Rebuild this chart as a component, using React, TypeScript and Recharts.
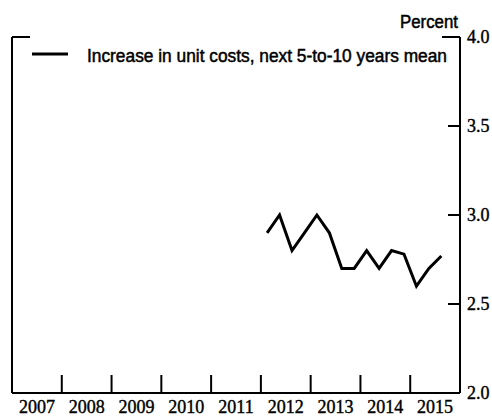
import { LineChart, Line, XAxis, YAxis, ReferenceLine } from "recharts";

const years = [2007, 2008, 2009, 2010, 2011, 2012, 2013, 2014, 2015];
const quarters = [
  "2012Q1", "2012Q2", "2012Q3", "2012Q4",
  "2013Q1", "2013Q2", "2013Q3", "2013Q4",
  "2014Q1", "2014Q2", "2014Q3", "2014Q4",
  "2015Q1", "2015Q2", "2015Q3",
];
const unitCostMean = [2.9, 3.0, 2.8, 2.9, 3.0, 2.9, 2.7, 2.7, 2.8, 2.7, 2.8, 2.78, 2.6, 2.7, 2.77];
const yTicks = [2.0, 2.5, 3.0, 3.5, 4.0];
const legendLabel = "Increase in unit costs, next 5-to-10 years mean";

const W = 492;
const H = 420;
const firstYear = years[0];

// quarter label -> position on a quarter-count axis (centre of the quarter)
const qPos = (q: string) => (Number(q.slice(0, 4)) - firstYear) * 4 + Number(q.slice(5)) - 0.5;

const data = quarters.map((q, i) => ({ x: qPos(q), v: unitCostMean[i] }));
const xMax = years.length * 4;
const xTicks = Array.from({ length: years.length * 2 - 1 }, (_, i) => 2 + i * 2);

const serif = "'Liberation Serif', 'Times New Roman', serif";
const sans = "'Liberation Sans', Arial, sans-serif";

function YearTick({ x, y, payload }: { x?: number; y?: number; payload?: { value: number } }) {
  const v = payload?.value ?? 0;
  if (v % 4 === 0) {
    return <line x1={x} x2={x} y1={y} y2={(y ?? 0) - 18} stroke="#000" strokeWidth={2} />;
  }
  return (
    <text
      x={x}
      y={(y ?? 0) + 20}
      textAnchor="middle"
      fontFamily={serif}
      fontSize={18}
      fill="#000"
      stroke="#000"
      strokeWidth={0.4}
    >
      {years[(v - 2) / 4]}
    </text>
  );
}

export default function App() {
  return (
    <div style={{ position: "absolute", left: 0, top: 0, width: W, height: H, background: "#fff" }}>
      <LineChart width={W} height={H} data={data} margin={{ top: 37, right: 0, bottom: 0, left: 0 }}>
        <XAxis
          dataKey="x"
          type="number"
          domain={[0, xMax]}
          ticks={xTicks}
          interval={0}
          tickSize={0}
          tickMargin={0}
          tickLine={false}
          tick={<YearTick />}
          height={27}
          axisLine={{ stroke: "#000", strokeWidth: 2 }}
        />
        <YAxis
          yAxisId="l"
          orientation="left"
          width={12}
          domain={[2, 4]}
          ticks={yTicks}
          tickSize={-12}
          tickFormatter={() => ""}
          tickLine={{ stroke: "#000", strokeWidth: 2 }}
          axisLine={{ stroke: "#000", strokeWidth: 2 }}
        />
        <YAxis
          yAxisId="r"
          orientation="right"
          width={32}
          domain={[2, 4]}
          ticks={yTicks}
          tickSize={-12}
          tickMargin={19}
          tickFormatter={(v: number) => v.toFixed(1)}
          tick={{ fontFamily: serif, fontSize: 18, fill: "#000", stroke: "#000", strokeWidth: 0.4 }}
          tickLine={{ stroke: "#000", strokeWidth: 2 }}
          axisLine={{ stroke: "#000", strokeWidth: 2 }}
        />
        <ReferenceLine yAxisId="r" y={4} stroke="#000" strokeWidth={2} />
        <Line
          yAxisId="r"
          dataKey="v"
          type="linear"
          stroke="#000"
          strokeWidth={3}
          dot={false}
          isAnimationActive={false}
        />
      </LineChart>
      <svg width={W} height={H} style={{ position: "absolute", left: 0, top: 0, pointerEvents: "none" }}>
        <rect x={30} y={30} width={412} height={14} fill="#fff" />
        <line x1={32} x2={68} y1={54} y2={54} stroke="#000" strokeWidth={3} />
        <text
          x={87}
          y={62}
          fontFamily={sans}
          fontSize={18}
          textLength={360}
          lengthAdjust="spacingAndGlyphs"
          fill="#000"
          stroke="#000"
          strokeWidth={0.5}
        >
          {legendLabel}
        </text>
        <text
          x={458}
          y={28}
          textAnchor="end"
          fontFamily={sans}
          fontSize={18}
          textLength={58}
          lengthAdjust="spacingAndGlyphs"
          fill="#000"
          stroke="#000"
          strokeWidth={0.5}
        >
          Percent
        </text>
      </svg>
    </div>
  );
}
